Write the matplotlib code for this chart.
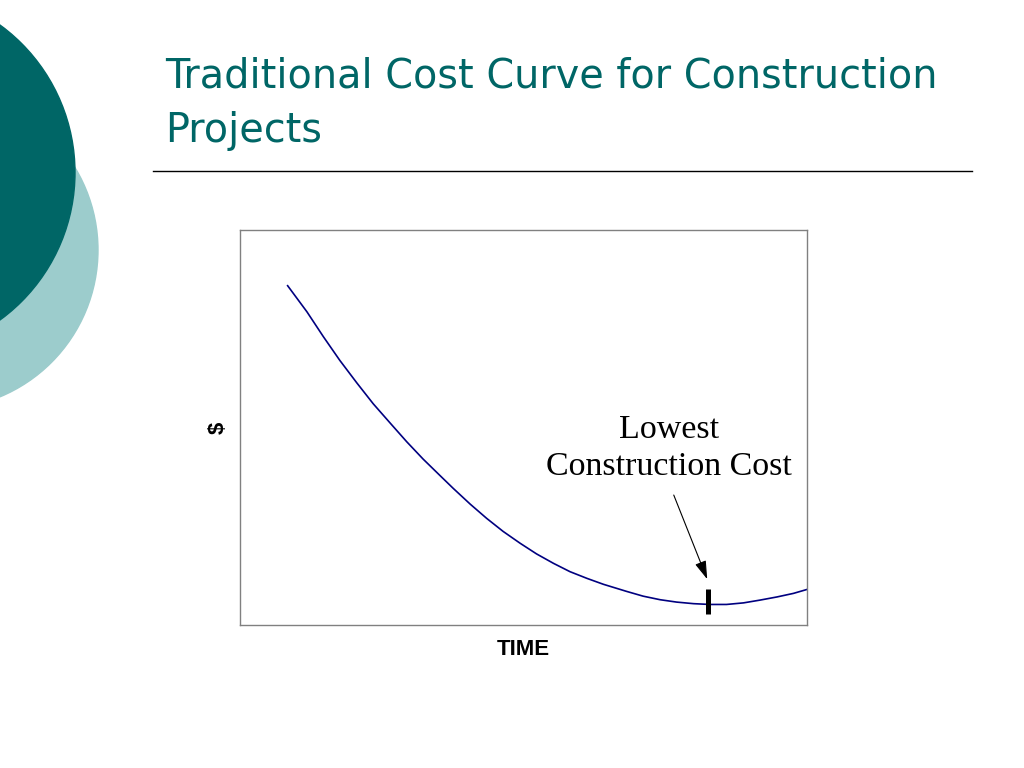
import matplotlib
matplotlib.use("Agg")
import matplotlib.pyplot as plt
from matplotlib.patches import Circle

# ---- data ----
time_vals = [8.4, 11.8, 14.7, 17.6, 20.6, 23.5, 26.5, 29.4, 32.3, 35.3, 37.6,
             40.6, 43.5, 46.4, 49.4, 52.3, 55.3, 58.2, 61.2, 64.1, 68.2, 71.1,
             74.1, 77.0, 80.0, 82.9, 85.8, 88.8, 91.7, 94.7, 97.6, 100.0]
cost_vals = [85.9, 79.3, 73.0, 67.0, 61.3, 56.0, 51.1, 46.4, 42.0, 37.8, 34.6,
             30.6, 27.0, 23.7, 20.7, 18.0, 15.6, 13.5, 11.8, 10.3, 8.5, 7.3,
             6.4, 5.8, 5.4, 5.2, 5.2, 5.6, 6.3, 7.1, 8.0, 9.0]
lowest_x = 82.6
lowest_tick = [2.8, 9.1]
arrow_tail = (76.5, 32.9)
arrow_head = (82.4, 11.6)
label_pos = (75.7, 44.8)

title_line1 = "Traditional Cost Curve for Construction"
title_line2 = "Projects"
annot_text = "Lowest\nConstruction Cost"
x_label = "TIME"
y_label = "$"

W, H = 1024, 768
fig = plt.figure(figsize=(W / 100, H / 100), dpi=100)

# background decoration axes in pixel coordinates
bg = fig.add_axes([0, 0, 1, 1])
bg.set_xlim(0, W)
bg.set_ylim(H, 0)
bg.axis("off")
bg.add_patch(Circle((-61, 250), 159, color="#9ccccc", zorder=1))
bg.add_patch(Circle((-107.5, 172.5), 182.5, color="#006666", zorder=2))
bg.plot([153, 972], [171, 171], color="black", lw=1.0)

title = bg.text(165, 77, title_line1, fontsize=32,
                color="#006666", family="DejaVu Sans", va="center", ha="left")
fig.canvas.draw()
bb = title.get_window_extent()
fs = 32 * 773 / bb.width
title.set_fontsize(fs)
bg.text(165, 131, title_line2, fontsize=fs, color="#006666",
        family="DejaVu Sans", va="center", ha="left")

# chart axes
ax = fig.add_axes([240 / W, 1 - 625 / H, 567 / W, 395 / H])
ax.set_xlim(0, 100)
ax.set_ylim(0, 100)
ax.set_xticks([])
ax.set_yticks([])
for s in ax.spines.values():
    s.set_color("#808080")
    s.set_linewidth(1.0)

ax.plot(time_vals, cost_vals, color="#000080", lw=1.2, solid_joinstyle="round")
ax.plot([lowest_x, lowest_x], lowest_tick, color="black", lw=3.6,
        solid_capstyle="butt")
ax.annotate("", xy=arrow_head, xytext=arrow_tail,
            arrowprops=dict(arrowstyle="-|>,head_length=0.8,head_width=0.25",
                            color="black", lw=0.8,
                            mutation_scale=14, shrinkA=0, shrinkB=0))
ax.text(label_pos[0], label_pos[1], annot_text, ha="center", va="center",
        multialignment="center", fontsize=24.5, family="Liberation Serif",
        linespacing=1.3)

ax.set_xlabel(x_label, fontsize=16, fontweight="bold", family="Liberation Sans",
              labelpad=10)
ax.set_ylabel(y_label, fontsize=16, fontweight="bold", family="Liberation Sans",
              labelpad=8)

fig.savefig("out.png", dpi=100)
